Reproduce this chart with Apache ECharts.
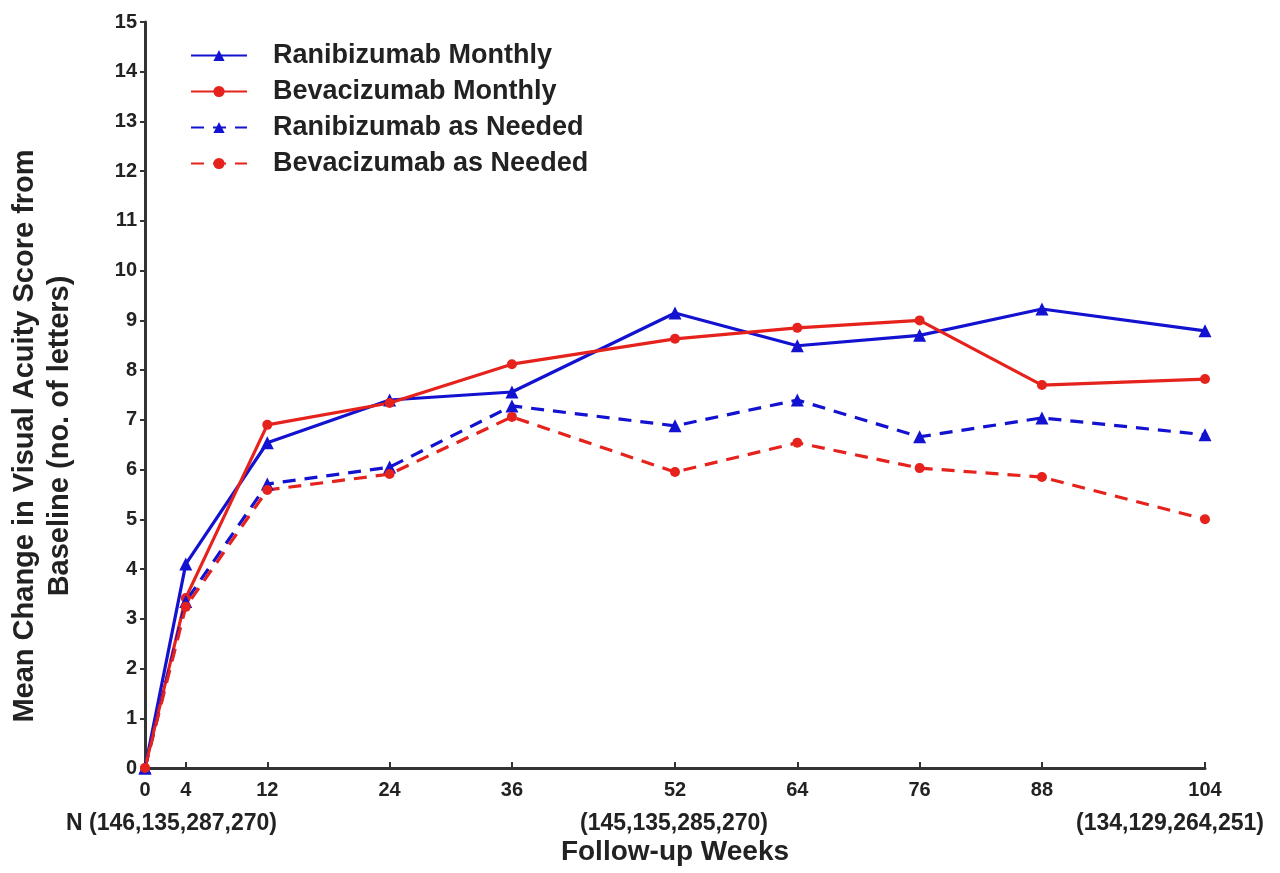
<!DOCTYPE html>
<html>
<head>
<meta charset="utf-8">
<script src="https://cdn.jsdelivr.net/npm/echarts@6/dist/echarts.min.js"></script>
<style>html,body{margin:0;padding:0;background:#fff;}#c{width:1280px;height:873px;}</style>
</head>
<body>
<div id="c"></div>
<script>
const weeks = [0, 4, 12, 24, 36, 52, 64, 76, 88, 104];
const ranibizumabMonthly = [0, 4.1, 6.54, 7.4, 7.56, 9.15, 8.49, 8.7, 9.23, 8.79];
const bevacizumabMonthly = [0, 3.42, 6.9, 7.34, 8.12, 8.63, 8.85, 9.0, 7.7, 7.82];
const ranibizumabAsNeeded = [0, 3.35, 5.71, 6.05, 7.28, 6.88, 7.4, 6.66, 7.04, 6.7];
const bevacizumabAsNeeded = [0, 3.24, 5.59, 5.91, 7.06, 5.95, 6.54, 6.03, 5.85, 5.0];
const seriesNames = ['Ranibizumab Monthly', 'Bevacizumab Monthly', 'Ranibizumab as Needed', 'Bevacizumab as Needed'];
const yTicks = [0,1,2,3,4,5,6,7,8,9,10,11,12,13,14,15];
const nLabels = ['N (146,135,287,270)', '(145,135,285,270)', '(134,129,264,251)'];
const yTitle = 'Mean Change in Visual Acuity Score from\nBaseline (no. of letters)';
const xTitle = 'Follow-up Weeks';

const BLUE = '#1212d0';
const RED = '#e5221c';
const FONT = "'Liberation Sans', Arial, Helvetica, sans-serif";
const pair = (vals) => weeks.map((w, i) => [w, vals[i]]);

const chart = echarts.init(document.getElementById('c'));
const mk = (name, vals, color, dashed, symbol, size) => ({
  name, type: 'line', data: pair(vals), color,
  symbol, symbolSize: size, showSymbol: true,
  lineStyle: { color, width: 3.2, type: dashed ? [13, 9] : 'solid' },
  itemStyle: { color },
  z: 3
});
chart.setOption({
  animation: false,
  backgroundColor: '#fff',
  grid: { left: 145, right: 75, top: 22, bottom: 105, containLabel: false, outerBoundsMode: 'none' },
  legend: {
    orient: 'vertical', left: 185, top: 37, itemGap: 9,
    itemWidth: 56, itemHeight: 14,
    data: seriesNames,
    textStyle: { fontFamily: FONT, fontSize: 27, fontWeight: 'bold', color: '#222', lineHeight: 26, padding: [0,0,0,21] }
  },
  xAxis: {
    type: 'value', min: 0, max: 104,
    splitLine: { show: false },
    axisLine: { show: true, lineStyle: { color: '#333', width: 3 } },
    axisTick: { show: true, inside: true, length: 6, lineStyle: { color: '#333', width: 2 }, customValues: weeks },
    axisLabel: { customValues: weeks, color: '#222', fontSize: 20, fontWeight: 'bold', fontFamily: FONT, margin: 12 },
    name: xTitle, nameLocation: 'middle', nameGap: 70,
    nameTextStyle: { fontFamily: FONT, fontSize: 28, fontWeight: 'bold', color: '#222' }
  },
  yAxis: {
    type: 'value', min: 0, max: 15, interval: 1,
    splitLine: { show: false },
    axisLine: { show: true, lineStyle: { color: '#333', width: 3 } },
    axisTick: { show: true, length: 5, lineStyle: { color: '#333', width: 2 } },
    axisLabel: { color: '#222', fontSize: 20, fontWeight: 'bold', fontFamily: FONT, margin: 8,
      formatter: (v) => yTicks.includes(v) ? String(v) : '' }
  },
  graphic: [
    { type: 'text', x: 42, y: 436, rotation: Math.PI / 2, z: 10,
      style: { text: yTitle, fontSize: 29, fontWeight: 'bold', fontFamily: FONT, fill: '#222', textAlign: 'center', textVerticalAlign: 'middle', lineHeight: 35 } },
    { type: 'text', x: 66, y: 824, z: 10, style: { text: nLabels[0], fontSize: 23, fontWeight: 'bold', fontFamily: FONT, fill: '#222', textAlign: 'left', textVerticalAlign: 'middle' } },
    { type: 'text', x: 674, y: 824, z: 10, style: { text: nLabels[1], fontSize: 23, fontWeight: 'bold', fontFamily: FONT, fill: '#222', textAlign: 'center', textVerticalAlign: 'middle' } },
    { type: 'text', x: 1264, y: 824, z: 10, style: { text: nLabels[2], fontSize: 23, fontWeight: 'bold', fontFamily: FONT, fill: '#222', textAlign: 'right', textVerticalAlign: 'middle' } }
  ],
  series: [
    mk(seriesNames[0], ranibizumabMonthly, BLUE, false, 'triangle', 13),
    mk(seriesNames[1], bevacizumabMonthly, RED, false, 'circle', 10),
    mk(seriesNames[2], ranibizumabAsNeeded, BLUE, true, 'triangle', 13),
    mk(seriesNames[3], bevacizumabAsNeeded, RED, true, 'circle', 10)
  ]
});
</script>
</body>
</html>
